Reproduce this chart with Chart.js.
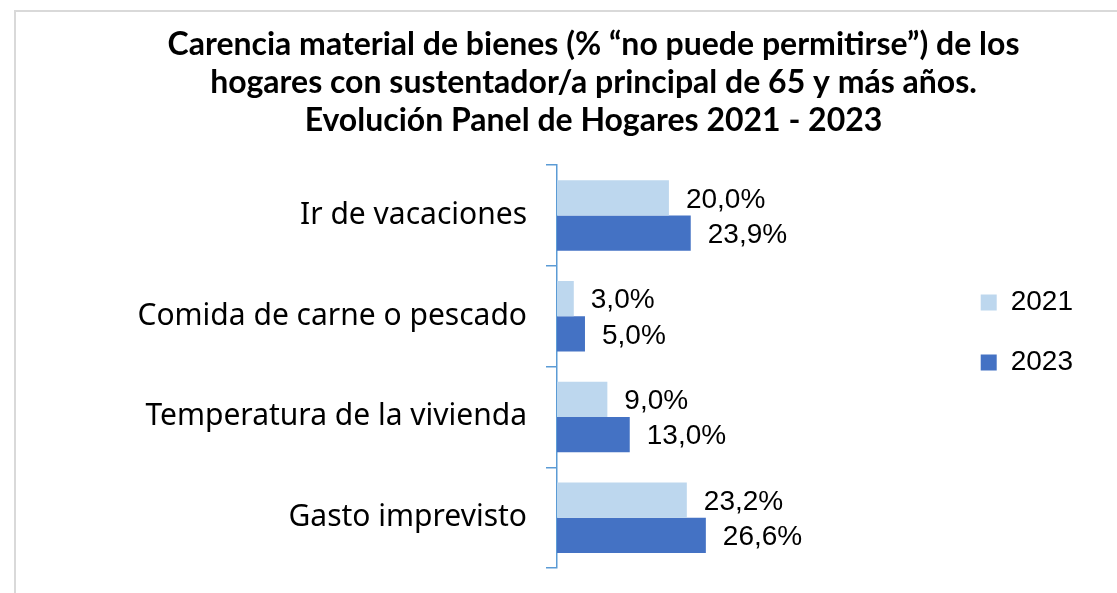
<!DOCTYPE html>
<html>
<head>
<meta charset="utf-8">
<script src="https://cdn.jsdelivr.net/npm/chart.js@4.4.1/dist/chart.umd.min.js"></script>
<style>
  html, body { margin: 0; padding: 0; background: #fff; }
  #wrap { position: relative; width: 1117px; height: 593px; }
  #marco { position: absolute; left: 14px; top: 10px; right: 0; bottom: 0;
           border-left: 2px solid #d9d9d9; border-top: 2px solid #d9d9d9; }
  canvas { position: absolute; left: 0; top: 0; }
</style>
</head>
<body>
<div id="wrap">
  <div id="marco"></div>
  <canvas id="grafico" width="1117" height="593"></canvas>
</div>
<script>
// Datos
const categorias = ['Ir de vacaciones', 'Comida de carne o pescado', 'Temperatura de la vivienda', 'Gasto imprevisto'];
const anios = ['2021', '2023'];
const valores2021 = [20.0, 3.0, 9.0, 23.2];
const valores2023 = [23.9, 5.0, 13.0, 26.6];
const titulo = [
    'Carencia material de bienes (% “no puede permitirse”) de los',
    'hogares con sustentador/a principal de 65 y más años.',
    'Evolución Panel de Hogares 2021 - 2023'
];

const AZUL_EJE = '#5B9BD5';
const fmt = v => v.toFixed(1).replace('.', ',') + '%';

// Etiquetas de valor al final de cada barra
const etiquetasBarras = {
    id: 'etiquetasBarras',
    afterDatasetsDraw(chart) {
        const ctx = chart.ctx;
        ctx.save();
        ctx.font = '28px "Liberation Sans", Arial, sans-serif';
        ctx.fillStyle = '#000';
        ctx.textAlign = 'left';
        ctx.textBaseline = 'middle';
        chart.data.datasets.forEach((ds, i) => {
            const meta = chart.getDatasetMeta(i);
            meta.data.forEach((bar, j) => {
                ctx.fillText(fmt(ds.data[j]), bar.x + 17, bar.y + 2);
            });
        });
        ctx.restore();
    }
};

new Chart(document.getElementById('grafico'), {
    type: 'bar',
    data: {
        labels: categorias,
        datasets: [
            { label: anios[0], data: valores2021, backgroundColor: '#BDD7EE', categoryPercentage: 0.7, barPercentage: 1.0 },
            { label: anios[1], data: valores2023, backgroundColor: '#4472C4', categoryPercentage: 0.7, barPercentage: 1.0 }
        ]
    },
    options: {
        indexAxis: 'y',
        responsive: false,
        animation: false,
        layout: { padding: { left: 104, right: 34, top: 0, bottom: 25 } },
        scales: {
            x: { display: false, min: 0, max: 70 },
            y: {
                afterFit: s => { s.width = 453; s.paddingTop = 0; s.paddingBottom = 0; },
                border: { color: AZUL_EJE, width: 1.5 },
                grid: { display: true, drawOnChartArea: false, drawTicks: true, tickLength: 11, color: AZUL_EJE, lineWidth: 1.5, offset: true },
                ticks: { color: '#000', padding: 19, font: { family: '"Noto Sans", "Open Sans", sans-serif', size: 30 } }
            }
        },
        plugins: {
            title: {
                display: true,
                text: titulo,
                color: '#000',
                font: { family: 'Lato', weight: 'bold', size: 32, lineHeight: 1.2 },
                padding: { top: 25, bottom: 25 }
            },
            legend: {
                position: 'right',
                align: 'start',
                title: { display: true, text: ' ', font: { size: 12 }, padding: { top: 242, bottom: 0 } },
                labels: {
                    boxWidth: 16, boxHeight: 16, padding: 32, color: '#000',
                    font: { family: '"Liberation Sans", Arial, sans-serif', size: 28 }
                }
            },
            tooltip: { enabled: false }
        }
    },
    plugins: [etiquetasBarras]
});
</script>
</body>
</html>
